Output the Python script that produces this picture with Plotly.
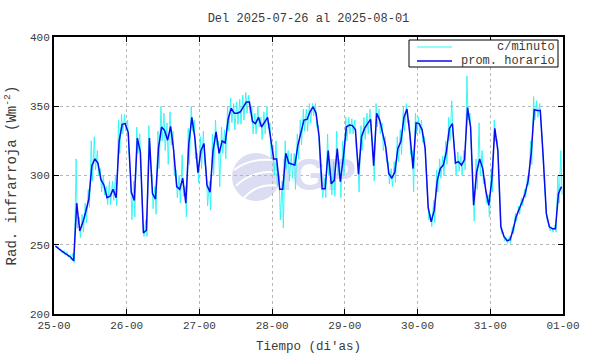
import pandas as pd
import plotly.graph_objects as go

# ---------------- data ----------------
title_text = "Del 2025-07-26 al 2025-08-01"
x_start = "2025-07-25 00:00"
x_end = "2025-08-01 00:00"

# hourly mean (prom. horario), 24 values per day, 25-jul .. 31-jul
prom_d25 = [249, 247, 245.5, 244, 242.5, 241, 238.5, 280, 260, 266, 274, 283,
            307, 312, 309, 297, 293, 284, 285, 290, 284, 325, 337, 337.5]
prom_d26 = [331, 288, 282, 327, 317, 258.5, 260.5, 327, 287, 283, 320, 335,
            332.5, 325.5, 335.5, 318, 292, 290, 298, 280, 323, 342, 327, 302]
prom_d27 = [318, 323, 293, 288, 318, 331.5, 316, 325, 323.5, 341, 348.5, 345,
            345, 346, 349.5, 353, 353, 339, 337.5, 342, 335, 338.5, 342, 327]
prom_d28 = [312, 312, 290, 290, 316, 309, 308.5, 307.5, 322, 331.5, 340, 340.5,
            346, 349.5, 345, 328, 290.5, 290.5, 318, 294, 296.5, 319.5, 295.5, 313]
prom_d29 = [335, 336.5, 336, 333, 301, 328, 334, 337.5, 340.5, 307, 345, 340,
            329, 320.5, 301.5, 298, 302.5, 319.5, 324.5, 342, 348, 329, 305, 338]
prom_d30 = [337.5, 333, 319.5, 277, 266.5, 275, 296.5, 305, 307.5, 317, 334, 337.5,
            309, 310, 307.5, 311.5, 349, 335, 278.5, 302.5, 312, 305, 289.5, 278.5]
prom_d31 = [296.5, 334, 318, 263, 256, 253, 253.5, 260.5, 270, 275, 281, 287,
            296.5, 316, 347.5, 347, 347, 312, 272.5, 263, 261.5, 261.5, 287, 292]

# per-minute record summarised as the highest / lowest excursion in each hour
cmin_hi = [251, 249, 247, 246, 245, 243, 244, 312, 270, 272, 280, 290, 325, 328, 318, 305, 300, 292, 296, 296, 300, 340, 344, 344,
           340, 300, 296, 335, 330, 270, 268, 336, 300, 292, 332, 350, 345, 338, 346, 332, 304, 300, 315, 292, 334, 350, 340, 316,
           328, 332, 303, 296, 330, 340, 325, 335, 333, 350, 356, 352, 353, 355, 358, 360, 358, 350, 345, 350, 342, 346, 350, 338,
           322, 325, 300, 296, 325, 318, 316, 316, 330, 340, 348, 348, 352, 352, 352, 336, 296, 298, 330, 305, 310, 332, 310, 325,
           342, 342, 341, 340, 312, 336, 342, 345, 348, 322, 352, 348, 338, 328, 310, 305, 310, 328, 333, 350, 352, 340, 318, 345,
           342, 340, 328, 285, 272, 282, 304, 312, 314, 325, 342, 354, 316, 317, 314, 318, 372, 345, 290, 312, 338, 318, 298, 286,
           305, 340, 326, 268, 259, 255, 256, 263, 273, 278, 284, 290, 300, 325, 357, 354, 352, 320, 276, 265, 263, 264, 300, 318]
cmin_lo = [248, 246, 244, 243, 241, 239, 237, 262, 255, 259, 266, 277, 296, 304, 300, 288, 286, 279, 279, 282, 278, 316, 330, 332,
           318, 268, 270, 316, 300, 256, 256, 312, 276, 272, 305, 325, 318, 308, 322, 300, 284, 280, 285, 270, 308, 332, 312, 295,
           305, 310, 278, 275, 300, 322, 292, 316, 312, 332, 338, 333, 337, 337, 340, 345, 345, 330, 330, 335, 326, 330, 334, 312,
           300, 292, 268, 262, 305, 296, 298, 290, 312, 322, 332, 332, 338, 343, 335, 312, 284, 284, 300, 286, 285, 300, 284, 300,
           325, 330, 330, 320, 288, 318, 326, 330, 332, 296, 335, 330, 318, 310, 294, 292, 295, 310, 315, 332, 338, 315, 288, 330,
           330, 324, 308, 268, 263, 266, 288, 298, 300, 308, 325, 330, 300, 303, 300, 304, 340, 325, 267, 290, 300, 294, 280, 270,
           288, 325, 310, 258, 253, 251, 251, 258, 267, 272, 278, 284, 293, 308, 340, 342, 340, 300, 268, 260, 259, 259, 280, 286]

y_ticks = [200, 250, 300, 350, 400]
legend_names = ["c/minuto", "prom. horario"]

# ---------------- build series ----------------
prom = prom_d25 + prom_d26 + prom_d27 + prom_d28 + prom_d29 + prom_d30 + prom_d31
t0 = pd.Timestamp(x_start)
t_prom = [t0 + pd.Timedelta(hours=h, minutes=30) for h in range(len(prom))]

t_min, v_min = [], []
for h, (hi, lo) in enumerate(zip(cmin_hi, cmin_lo)):
    t_min.append(t0 + pd.Timedelta(hours=h, minutes=18))
    v_min.append(hi)
    t_min.append(t0 + pd.Timedelta(hours=h, minutes=42))
    v_min.append(lo)

# ---------------- layout geometry ----------------
W, H = 590, 354
L, R, T, B = 54, 27, 37, 40
PW, PH = W - L - R, H - T - B

def px(x):
    return (x - L) / PW

def py(y):
    return 1 - (y - T) / PH

mono = "Liberation Mono"
txtc = "#3a3a3a"
CYAN = "#2af5f5"
BLUE = "#0a0aef"
WMARK = "#dcdcf2"

fig = go.Figure()

# watermark lettering (drawn first so data lies above it)
xr0, xr1 = pd.Timestamp(x_start), pd.Timestamp(x_end)
wm_x = xr0 + (xr1 - xr0) * px(318)
wm_y = 400 - (400 - 200) * (1 - py(179))
fig.add_trace(go.Scatter(
    x=[wm_x], y=[wm_y], mode="text", text=["<b>IGP</b>"],
    textfont=dict(family="Liberation Sans", size=44, color=WMARK),
    hoverinfo="skip", showlegend=False))

fig.add_trace(go.Scatter(
    x=t_min, y=v_min, mode="lines", name=legend_names[0],
    line=dict(color=CYAN, width=0.9), showlegend=False))
fig.add_trace(go.Scatter(
    x=t_prom, y=prom, mode="lines", name=legend_names[1],
    line=dict(color=BLUE, width=1.5), showlegend=False))

shapes = []
# watermark globe
shapes.append(dict(type="circle", xref="paper", yref="paper",
                   x0=px(232), x1=px(280), y0=py(201), y1=py(153),
                   fillcolor=WMARK, line=dict(width=0), layer="below"))
def arc(xa, ya, xc, yc, xb, yb):
    return (f"M {px(xa)},{py(ya)} Q {px(xc)},{py(yc)} {px(xb)},{py(yb)}")
for a in [arc(234, 170, 250, 158, 272, 160), arc(236, 186, 252, 170, 278, 172),
          arc(244, 198, 258, 182, 280, 186)]:
    shapes.append(dict(type="path", xref="paper", yref="paper", path=a,
                       line=dict(color="white", width=2), layer="below"))

# legend box
shapes.append(dict(type="rect", xref="paper", yref="paper",
                   x0=px(409), x1=px(558), y0=py(67), y1=py(40),
                   line=dict(color="black", width=1), fillcolor="white", layer="above"))
shapes.append(dict(type="line", xref="paper", yref="paper",
                   x0=px(417), x1=px(452), y0=py(47), y1=py(47),
                   line=dict(color=CYAN, width=1), layer="above"))
shapes.append(dict(type="line", xref="paper", yref="paper",
                   x0=px(417), x1=px(452), y0=py(61), y1=py(61),
                   line=dict(color=BLUE, width=1.5), layer="above"))

annotations = [
    dict(text=legend_names[0], xref="paper", yref="paper", x=px(557), y=py(47),
         xanchor="right", yanchor="middle", showarrow=False,
         font=dict(family=mono, size=12, color=txtc)),
    dict(text=legend_names[1], xref="paper", yref="paper", x=px(557), y=py(61),
         xanchor="right", yanchor="middle", showarrow=False,
         font=dict(family=mono, size=12, color=txtc)),
]

axis_common = dict(showline=True, linecolor="black", linewidth=2, mirror="ticks",
                   ticks="inside", ticklen=5, tickwidth=1, tickcolor="black",
                   showgrid=True, gridcolor="#b8b8b8", griddash="dot", gridwidth=1,
                   zeroline=False, automargin=False,
                   tickfont=dict(family=mono, size=11, color=txtc))

fig.update_layout(
    width=W, height=H, autosize=False,
    margin=dict(l=L, r=R, t=T, b=B, pad=0),
    paper_bgcolor="white", plot_bgcolor="white",
    title=dict(text=title_text, x=px(308.5) * PW / W + L / W, xanchor="center",
               y=1 - 18 / H, yanchor="middle", automargin=False,
               font=dict(family=mono, size=12, color=txtc)),
    xaxis=dict(range=[x_start, x_end], type="date", tickformat="%d-%H",
               dtick=86400000, tick0=x_start,
               title=dict(text="Tiempo (di'as)", standoff=12,
                          font=dict(family=mono, size=12.5, color=txtc)),
               **axis_common),
    yaxis=dict(range=[200, 400], tickvals=y_ticks,
               title=dict(text="Rad. infrarroja (Wm<sup>-2</sup>)", standoff=10,
                          font=dict(family=mono, size=14, color=txtc)),
               **axis_common),
    shapes=shapes, annotations=annotations, showlegend=False,
)

fig.write_html("out.html", config={"displayModeBar": False},
               post_script="document.body.style.margin='0';document.body.style.padding='0';")
